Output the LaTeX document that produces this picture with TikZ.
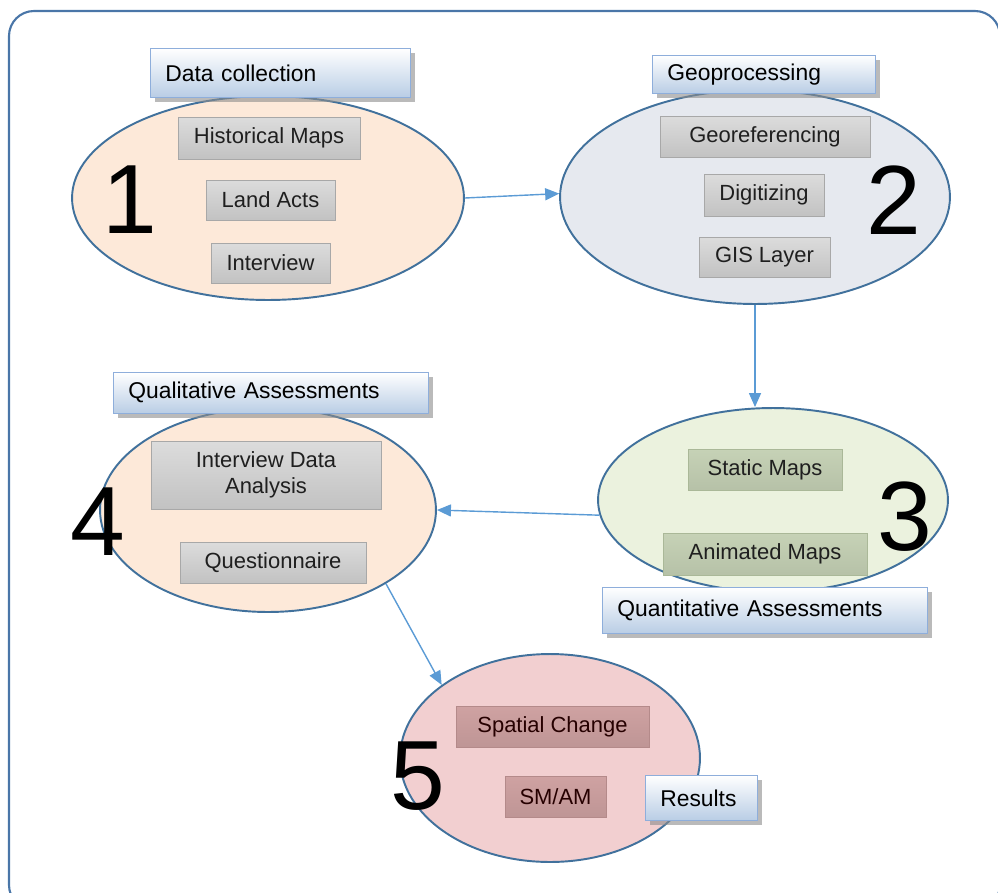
\documentclass[tikz,border=0pt]{standalone}
\usepackage{fontspec}
\setmainfont{Liberation Sans}
\usetikzlibrary{shapes.geometric,arrows.meta,shadows}

\definecolor{frameblue}{HTML}{4A76A8}
\definecolor{ellblue}{HTML}{41719C}
\definecolor{arrowblue}{HTML}{5B9BD5}
\definecolor{peach}{HTML}{FDE9D9}
\definecolor{bluegray}{HTML}{E6E9EF}
\definecolor{palegreen}{HTML}{EBF2DE}
\definecolor{palepink}{HTML}{F2CFD0}
\definecolor{itemtop}{HTML}{DCDCDC}
\definecolor{itembot}{HTML}{C2C2C2}
\definecolor{itemedge}{HTML}{A8A8A8}
\definecolor{greenbox}{HTML}{C6D2B6}
\definecolor{greenedge}{HTML}{AAB898}
\definecolor{redbox}{HTML}{CFA2A2}
\definecolor{rededge}{HTML}{B48A8A}
\definecolor{tagbot}{HTML}{B9CDE5}
\definecolor{tagedge}{HTML}{8EAEDB}

\begin{document}
\begin{tikzpicture}[x=0.02cm, y=-0.02cm,
    phase/.style = {ellipse, draw=ellblue, line width=1.1pt, inner sep=0pt},
    item/.style = {draw=itemedge, top color=itemtop, bottom color=itembot,
        inner sep=0pt, align=center, text=black!88,
        font=\fontsize{12.5}{15}\selectfont},
    tag/.style = {anchor=north west, draw=tagedge, top color=white, bottom color=tagbot,
        drop shadow={shadow xshift=2.5pt, shadow yshift=-2.5pt, fill=black!45, opacity=.6},
        inner xsep=0.3cm, inner ysep=0pt, align=left, text=black,
        font=\fontsize{13}{15}\selectfont},
    num/.style = {font=\fontsize{56}{56}\selectfont, inner sep=0pt},
    flow/.style = {-{Triangle[length=0.28cm, width=0.24cm]}, draw=arrowblue, line width=0.8pt}]

    \useasboundingbox (0,0) rectangle (998,893);
    \draw[frameblue, line width=1.2pt, rounded corners=0.5cm] (9,11) rectangle (1000,910);

    % phases
    \node[phase, fill=peach, minimum width=7.84cm, minimum height=4.08cm] (p1) at (268,198) {};
    \node[phase, fill=bluegray, minimum width=7.8cm, minimum height=4.28cm] (p2) at (755,197) {};
    \node[phase, fill=palegreen, minimum width=7.0cm, minimum height=3.68cm] (p3) at (773,500) {};
    \node[phase, fill=peach, minimum width=6.72cm, minimum height=4.08cm] (p4) at (268,510) {};
    \node[phase, fill=palepink, minimum width=6.0cm, minimum height=4.16cm] (p5) at (550,758) {};

    % steps inside the phases
    \foreach \name/\x/\y/\w/\h/\txt in {
        h1/269/138/3.64/0.84/{Historical Maps},
        h2/270.5/200/2.58/0.8/{Land Acts},
        h3/270.5/263/2.38/0.8/{Interview},
        g1/765/136.5/4.2/0.82/{Georeferencing},
        g2/764/195/2.4/0.84/{Digitizing},
        g3/764.5/257/2.62/0.8/{GIS Layer},
        a1/266/475/4.6/1.36/{Interview Data\\Analysis},
        a2/273/562.5/3.72/0.82/{Questionnaire}}
        \node[item, minimum width=\w cm, minimum height=\h cm] (\name) at (\x,\y) {\txt};

    \node[item, draw=greenedge, top color=greenbox, bottom color=greenbox!92!black,
        minimum width=3.08cm, minimum height=0.82cm] (q1) at (765,469.5) {Static Maps};
    \node[item, draw=greenedge, top color=greenbox, bottom color=greenbox!92!black,
        minimum width=4.08cm, minimum height=0.84cm] (q2) at (765,554) {Animated Maps};
    \node[item, draw=rededge, top color=redbox, bottom color=redbox!92!black, text=black!85!red,
        minimum width=3.86cm, minimum height=0.82cm] (r1) at (552.5,726.5) {Spatial Change};
    \node[item, draw=rededge, top color=redbox, bottom color=redbox!92!black, text=black!85!red,
        minimum width=2.02cm, minimum height=0.82cm] (r2) at (555.5,796.5) {SM/AM};

    % phase numbers
    \node[num] (n1) at (130,200) {1};
    \node[num] (n2) at (894,200) {2};
    \node[num] (n3) at (905,517) {3};
    \node[num] (n4) at (98,522) {4};
    \node[num] (n5) at (418,776) {5};

    % titles
    \node[tag, text width=4.6cm, minimum height=0.98cm] (t1) at (150,48) {Data collection};
    \node[tag, text width=3.86cm, minimum height=0.76cm] (t2) at (652,55) {Geoprocessing};
    \node[tag, text width=5.7cm, minimum height=0.82cm] (t4) at (113,372) {Qualitative Assessments};
    \node[tag, text width=5.9cm, minimum height=0.92cm] (t3) at (602,587) {Quantitative Assessments};
    \node[tag, text width=1.64cm, minimum height=0.9cm] (t5) at (645,775) {Results};

    % flow
    \draw[flow] (p1.east) -- (p2.179);
    \draw[flow] (p2.south) -- (p2.south |- p3.north);
    \draw[flow] (p3.185) -- (p4.east);
    \draw[flow] (p4.-32) -- (p5.146);

\end{tikzpicture}
\end{document}
